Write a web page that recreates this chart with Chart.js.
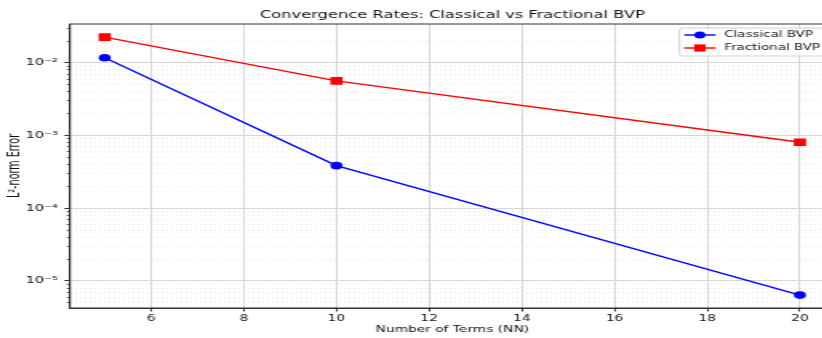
<!DOCTYPE html>
<html>
<head>
<meta charset="utf-8">
<script src="https://cdn.jsdelivr.net/npm/chart.js@4.4.0/dist/chart.umd.min.js"></script>
<style>
  html, body { margin: 0; padding: 0; background: #fff; overflow: hidden; }
  #frame { width: 822px; height: 338px; overflow: hidden; }
  /* the reference picture is stretched sideways, so draw narrow and stretch */
  #stretch { width: 540px; height: 338px; transform: scaleX(1.6); transform-origin: 0 0; }
</style>
</head>
<body>
<div id="frame"><div id="stretch"><canvas id="convChart" width="540" height="338"></canvas></div></div>
<script>
// ─── data ───
const terms = [5, 10, 20];
const classicalErr = [0.0118, 3.86e-4, 6.4e-6];
const fractionalErr = [0.0226, 5.65e-3, 8.1e-4];
const xTicks = [6, 8, 10, 12, 14, 16, 18, 20];
const yMajorTicks = [1e-5, 1e-4, 1e-3, 1e-2];

const FONT = 'DejaVu Sans';
const TXT = '#111';

const sup = { '-': '⁻', '0': '⁰', '1': '¹', '2': '²', '3': '³', '4': '⁴', '5': '⁵', '6': '⁶', '7': '⁷', '8': '⁸', '9': '⁹' };
const powLabel = v => '10' + String(Math.round(Math.log10(v))).split('').map(c => sup[c]).join('');

const Y_MIN = 4.25e-6, Y_MAX = 0.0343;

function minorTicks() {
    const out = [];
    for (let e = -6; e <= -1; e++) {
        for (let m = 2; m <= 9; m++) {
            const v = m * Math.pow(10, e);
            if (v >= Y_MIN && v <= Y_MAX) out.push({ value: v });
        }
    }
    return out;
}

// ─── title, legend, frame ───
const decorPlugin = {
    id: 'decor',
    afterDraw(chart) {
        const { ctx, chartArea: a } = chart;
        ctx.save();
        // frame (top / right spines)
        ctx.strokeStyle = '#333';
        ctx.lineWidth = 1;
        ctx.strokeRect(a.left, a.top, a.right - a.left, a.bottom - a.top);

        // title
        ctx.fillStyle = TXT;
        ctx.font = `10.2px '${FONT}'`;
        ctx.textAlign = 'center';
        ctx.textBaseline = 'alphabetic';
        ctx.fillText('Convergence Rates: Classical vs Fractional BVP', (a.left + a.right) / 2, 18);

        // legend box
        const lx = a.right - 97, ly = a.top + 4, lw = 94, lh = 28;
        ctx.beginPath();
        ctx.roundRect(lx, ly, lw, lh, 2);
        ctx.fillStyle = 'rgba(255,255,255,0.8)';
        ctx.fill();
        ctx.strokeStyle = '#d0d0d0';
        ctx.stroke();

        chart.data.datasets.forEach((ds, i) => {
            const y = ly + 7 + i * 13;
            const x0 = lx + 3, x1 = lx + 22.5, xm = (x0 + x1) / 2;
            ctx.strokeStyle = ds.borderColor;
            ctx.lineWidth = ds.borderWidth;
            ctx.beginPath();
            ctx.moveTo(x0, y);
            ctx.lineTo(x1, y);
            ctx.stroke();
            ctx.fillStyle = ds.borderColor;
            if (ds.pointStyle === 'rect') {
                ctx.fillRect(xm - 3.6, y - 3.6, 7.2, 7.2);
            } else {
                ctx.beginPath();
                ctx.arc(xm, y, 3.5, 0, Math.PI * 2);
                ctx.fill();
            }
            ctx.fillStyle = TXT;
            ctx.font = `8.4px '${FONT}'`;
            ctx.textAlign = 'left';
            ctx.textBaseline = 'middle';
            ctx.fillText(ds.label, lx + 28, y);
        });
        ctx.restore();
    }
};

const ctx = document.getElementById('convChart').getContext('2d');
new Chart(ctx, {
    type: 'line',
    data: {
        datasets: [{
            label: 'Classical BVP',
            data: terms.map((x, i) => ({ x, y: classicalErr[i] })),
            borderColor: '#0000ff',
            backgroundColor: '#0000ff',
            borderWidth: 1.4,
            pointStyle: 'circle',
            pointRadius: 3.8,
            pointBorderWidth: 0,
            tension: 0
        }, {
            label: 'Fractional BVP',
            data: terms.map((x, i) => ({ x, y: fractionalErr[i] })),
            borderColor: '#ff0000',
            backgroundColor: '#ff0000',
            borderWidth: 1.4,
            pointStyle: 'rect',
            pointRadius: 5.4,
            pointBorderWidth: 0,
            tension: 0
        }]
    },
    options: {
        responsive: false,
        animation: false,
        devicePixelRatio: 1,
        layout: { padding: { top: 24, right: 18.3, bottom: 0, left: 0 } },
        scales: {
            x: {
                type: 'linear',
                bounds: 'data',
                min: 4.25,
                max: 20.75,
                afterBuildTicks: s => { s.ticks = xTicks.map(v => ({ value: v })); },
                afterFit: s => { s.height = 30; },
                grid: { color: '#d6d6d6', lineWidth: 1, tickColor: '#333', tickLength: 3.5 },
                border: { color: '#333', width: 1 },
                ticks: { font: { family: FONT, size: 8.6 }, color: TXT, padding: 2, maxRotation: 0 },
                title: {
                    display: true, text: 'Number of Terms (NN)',
                    font: { family: FONT, size: 8.6 }, color: TXT,
                    padding: { top: 0, bottom: 3 }
                }
            },
            y: {
                type: 'logarithmic',
                position: 'left',
                weight: 1,
                bounds: 'data',
                min: Y_MIN,
                max: Y_MAX,
                afterBuildTicks: s => { s.ticks = yMajorTicks.map(v => ({ value: v })); },
                afterFit: s => { s.width = 43.75; },
                grid: { color: '#d6d6d6', lineWidth: 1, tickColor: '#333', tickLength: 3.5 },
                border: { color: '#333', width: 1 },
                ticks: { font: { family: FONT, size: 9.2 }, color: TXT, padding: 4, callback: v => powLabel(v) },
                title: {
                    display: true, text: 'L²-norm Error',
                    font: { family: FONT, size: 9.6 }, color: TXT,
                    padding: { top: 4, bottom: 0 }
                }
            },
            yMinor: {
                type: 'logarithmic',
                position: 'left',
                weight: 0,
                bounds: 'data',
                min: Y_MIN,
                max: Y_MAX,
                afterBuildTicks: s => { s.ticks = minorTicks(); },
                afterFit: s => { s.width = 0; },
                grid: { color: '#e4e4e4', lineWidth: 0.8, tickColor: '#333', tickLength: 2 },
                border: { display: false, dash: [1, 2] },
                ticks: { display: false }
            }
        },
        plugins: {
            legend: { display: false },
            tooltip: { enabled: false },
            title: { display: false }
        }
    },
    plugins: [decorPlugin]
});
</script>
</body>
</html>
